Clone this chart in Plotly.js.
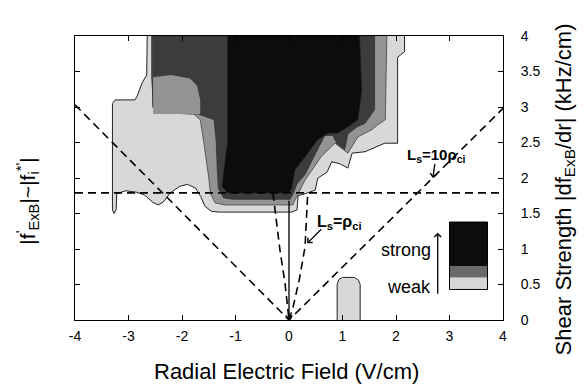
<!DOCTYPE html>
<html><head><meta charset="utf-8">
<script src="https://cdn.plot.ly/plotly-3.0.1.min.js"></script>
<style>html,body{margin:0;padding:0;background:#fff}#chart{width:585px;height:385px}</style>
</head><body><div id="chart"></div>
<script>
// x: radial electric field (V/cm), y: shear strength |df_ExB/dr| (kHz/cm)
const xTicks = [-4,-3,-2,-1,0,1,2,3,4];
const xTickText = ['-4','-3','-2','-1','0','1','2','3','4'];
const yTicks = [0,0.5,1,1.5,2,2.5,3,3.5,4];
const yTickText = ['0','0.5','1','1.5','2','2.5','3','3.5','4'];

// contour level 1 (weakest, outer boundary)
const level1X = [-2.65,-2.66,-2.74,-2.84,-2.88,-3.25,-3.30,-3.30,-3.27,-3.23,-3.22,-3.05,-2.85,-2.70,-2.55,-2.45,-2.35,-2.22,-2.05,-1.90,-1.75,-1.65,-1.57,-1.45,-1.30,0.05,0.15,0.17,0.35,0.49,0.54,0.71,0.80,0.95,1.10,1.18,1.42,1.79,2.03,2.03,2.16,2.16];
const level1Y = [4.0,3.45,3.35,3.15,3.10,3.10,3.05,1.55,1.50,1.56,1.78,1.82,1.80,1.76,1.66,1.62,1.66,1.79,1.88,1.91,1.86,1.74,1.60,1.53,1.52,1.52,1.55,1.75,1.79,1.83,2.00,2.08,2.23,2.20,2.14,2.35,2.37,2.49,2.49,3.70,3.78,4.0];
// level 2
const level2X = [-2.57,-2.57,-2.53,-2.40,-1.78,-1.66,-1.60,-1.54,-1.50,-1.47,-1.38,-1.20,0.07,0.12,0.20,0.30,0.43,0.60,0.86,0.99,1.10,1.29,1.55,1.66,1.80,1.83];
const level2Y = [4.0,3.42,3.00,2.92,2.90,2.82,2.54,2.25,2.00,1.78,1.65,1.62,1.62,1.70,1.83,1.97,2.11,2.30,2.49,2.41,2.35,2.58,2.68,2.75,2.82,4.0];
// level 3
const level3X = [-2.55,-2.55,-2.45,-1.70,-1.40,-1.36,-1.34,-1.32,-1.22,-1.05,0.02,0.08,0.15,0.30,0.50,0.67,0.82,0.90,1.04,1.10,1.27,1.42,1.60,1.60];
const level3Y = [4.0,3.00,2.92,2.90,2.82,2.50,2.10,1.85,1.72,1.70,1.70,1.78,1.92,2.05,2.35,2.60,2.60,2.48,2.40,2.62,2.72,2.77,2.96,4.0];
// level 2 pocket inside level 3 (upper left)
const pocketX = [-2.54,-2.20,-1.85,-1.72,-1.66,-1.66,-2.54];
const pocketY = [3.42,3.45,3.40,3.30,3.10,2.90,2.90];
// level 4 (strongest)
const level4X = [-1.15,-1.15,-1.22,-1.25,-1.15,0.00,0.05,0.11,0.30,0.54,0.73,0.91,1.10,1.29,1.36,1.32];
const level4Y = [4.0,2.50,2.10,1.88,1.79,1.79,1.85,2.11,2.30,2.54,2.63,2.63,2.72,2.82,3.24,4.0];
// isolated weak patch
const patchX = [0.90,0.90,0.93,1.00,1.22,1.30,1.33,1.33];
const patchY = [0.0,0.50,0.57,0.60,0.60,0.56,0.50,0.0];

// guide lines
const resonanceX = [-4,4];
const resonanceY = [1.79,1.79];
const ls10X = [-4,0,4];
const ls10Y = [3.03,0,2.98];
const lsRhoLeftX = [-0.30,-0.26,-0.17,-0.075,0];
const lsRhoLeftY = [1.79,1.52,0.99,0.52,0];
const lsRhoRightX = [0,0.075,0.19,0.30,0.35];
const lsRhoRightY = [0,0.18,0.56,1.03,1.79];

const FONT = '"Liberation Sans", Arial, Helvetica, sans-serif';
const OUT = '#222';
const C1 = '#d8d8d8', C2 = '#939393', C3 = '#3c3c3c', C4 = '#0c0c0c';

function region(x, y, fill, w) {
  return {x: x, y: y, type: 'scatter', mode: 'lines', fill: 'toself', fillcolor: fill,
    line: {color: OUT, width: w}, hoverinfo: 'skip', showlegend: false};
}
function dashed(x, y) {
  return {x: x, y: y, type: 'scatter', mode: 'lines', line: {color: '#000', width: 1.6, dash: '8px,5px'},
    hoverinfo: 'skip', showlegend: false};
}

const traces = [
  region(level1X, level1Y, C1, 1),
  region(level2X, level2Y, C2, 0.6),
  region(level3X, level3Y, C3, 0.6),
  region(pocketX, pocketY, C2, 0),
  region(level4X, level4Y, C4, 0.6),
  region(patchX, patchY, C1, 1),
  dashed(resonanceX, resonanceY),
  dashed(ls10X, ls10Y),
  dashed(lsRhoLeftX, lsRhoLeftY),
  dashed(lsRhoRightX, lsRhoRightY)
];

const arrow = (o) => Object.assign({text: '', showarrow: true, arrowhead: 4, arrowsize: 1, arrowwidth: 1.3,
  arrowcolor: '#000', standoff: 0, startstandoff: 0, xref: 'x', yref: 'y', axref: 'x', ayref: 'y'}, o);

const layout = {
  width: 585, height: 385,
  margin: {l: 75, r: 82, t: 36, b: 65},
  paper_bgcolor: '#fff', plot_bgcolor: '#fff',
  font: {family: FONT, color: '#000', size: 14},
  showlegend: false,
  xaxis: {range: [-4, 4], tickvals: xTicks, ticktext: xTickText, ticks: 'inside', ticklen: 5, tickcolor: '#000',
    mirror: 'ticks', showline: true, linecolor: '#000', linewidth: 1, showgrid: false, zeroline: false,
    tickfont: {size: 14, family: FONT}, ticklabelstandoff: 3},
  yaxis: {range: [0, 4], tickvals: yTicks, ticktext: yTickText, side: 'right', ticks: 'inside', ticklen: 5, tickcolor: '#000',
    mirror: 'ticks', showline: true, linecolor: '#000', linewidth: 1, showgrid: false, zeroline: false,
    tickfont: {size: 14, family: FONT}, ticklabelstandoff: 14},
  shapes: [
    {type: 'rect', xref: 'x', yref: 'y', x0: 3.0, x1: 3.71, y0: 0.43, y1: 0.60, fillcolor: C1, line: {width: 0}},
    {type: 'rect', xref: 'x', yref: 'y', x0: 3.0, x1: 3.71, y0: 0.60, y1: 0.76, fillcolor: '#6a6a6a', line: {width: 0}},
    {type: 'rect', xref: 'x', yref: 'y', x0: 3.0, x1: 3.71, y0: 0.76, y1: 1.38, fillcolor: C4, line: {width: 0}},
    {type: 'rect', xref: 'x', yref: 'y', x0: 3.0, x1: 3.71, y0: 0.43, y1: 1.38, line: {color: '#000', width: 1}}
  ],
  annotations: [
    {text: 'Radial Electric Field (V/cm)', xref: 'paper', yref: 'paper', x: 0.495, y: -0.18,
      xanchor: 'center', yanchor: 'middle', showarrow: false, font: {size: 22}},
    {text: 'Shear Strength |df<sub>ExB</sub>/dr| (kHz/cm)', xref: 'paper', yref: 'paper', x: 1.145, y: 0.46,
      xanchor: 'center', yanchor: 'middle', textangle: -90, showarrow: false, font: {size: 22}},
    {text: "|f<sup>'</sup><sub>ExB</sub>|~|f<sub>i</sub><sup>*'</sup>|", xref: 'paper', yref: 'paper', x: -0.11, y: 0.42,
      xanchor: 'center', yanchor: 'middle', textangle: -90, showarrow: false, font: {size: 21}},
    {text: '<b>L<sub>s</sub>=ρ<sub>ci</sub></b>', xref: 'x', yref: 'y', x: 0.95, y: 1.38, showarrow: false, font: {size: 16}},
    arrow({x: 0.34, y: 1.08, ax: 0.63, ay: 1.30}),
    {text: '<b>L<sub>s</sub>=10ρ<sub>ci</sub></b>', xref: 'x', yref: 'y', x: 2.76, y: 2.32, showarrow: false, font: {size: 15}},
    arrow({x: 2.69, y: 2.0, ax: 2.73, ay: 2.22}),
    {text: 'strong', xref: 'x', yref: 'y', x: 2.7, y: 0.99, xanchor: 'right', showarrow: false, font: {size: 18}},
    {text: 'weak', xref: 'x', yref: 'y', x: 2.7, y: 0.46, xanchor: 'right', showarrow: false, font: {size: 18}},
    arrow({x: 2.78, y: 1.23, ax: 2.78, ay: 0.35}),
    arrow({x: 0, y: 0, ax: 0, ay: 1.70}),
    {text: '', xref: 'x', yref: 'y', x: -4.05, y: 1.79, ax: -22, ay: 0, showarrow: true, arrowhead: 4,
      arrowsize: 1, arrowwidth: 1.5, arrowcolor: '#000', standoff: 0}
  ]
};

Plotly.newPlot('chart', traces, layout, {displayModeBar: false, staticPlot: true});
</script></body></html>
